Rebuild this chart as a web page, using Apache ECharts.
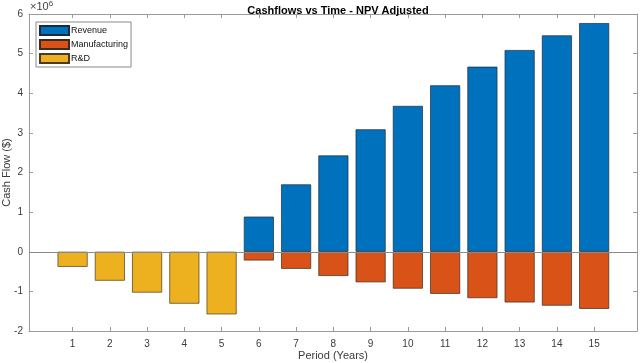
<!DOCTYPE html>
<html><head><meta charset="utf-8">
<script src="https://cdn.jsdelivr.net/npm/echarts@6/dist/echarts.min.js"></script>
<style>html,body{margin:0;padding:0;background:#fff}#c{width:640px;height:363px}</style>
</head><body><div id="c"></div>
<script>
const periods = [1,2,3,4,5,6,7,8,9,10,11,12,13,14,15];
const revenue = [null,null,null,null,null,0.886,1.70,2.43,3.09,3.68,4.20,4.67,5.09,5.46,5.77];
const manufacturing = [null,null,null,null,null,-0.22,-0.43,-0.61,-0.77,-0.93,-1.06,-1.17,-1.28,-1.36,-1.44];
const rnd = [-0.38,-0.73,-1.03,-1.31,-1.58,null,null,null,null,null,null,null,null,null,null];
const yTicks = [-2,-1,0,1,2,3,4,5,6];

const FONT = "'Liberation Sans', Arial, sans-serif";
const axisGray = '#9a9a9a';
const textCol = '#3a3a3a';
const pairs = arr => periods.map((p,i)=>[p, arr[i]]).filter(d=>d[1]!==null);

const chart = echarts.init(document.getElementById('c'), null, {renderer:'canvas'});
const barBase = {type:'bar', barWidth:30, barGap:'-100%', xAxisIndex:0, yAxisIndex:0};
chart.setOption({
  animation:false,
  textStyle:{fontFamily:FONT},
  title:{text:'Cashflows vs Time - NPV Adjusted', left:333, top:0, textAlign:'center',
    textStyle:{fontFamily:FONT, fontSize:11, fontWeight:'bold', color:'#000'}},
  graphic:[{type:'text', left:30, top:0, style:{text:'×10{s|6}', fontFamily:FONT, fontSize:11, fill:'#444',
    rich:{s:{fontSize:8, verticalAlign:'top', fill:'#444', padding:[0,0,6,0]}}}}],
  legend:{orient:'vertical', left:36, top:22, itemWidth:29, itemHeight:9, itemGap:3, padding:[3,3,3,3],
    borderColor:'#8a8a8a', borderWidth:1, backgroundColor:'#fff', icon:'rect',
    textStyle:{fontFamily:FONT, fontSize:9, color:'#111', padding:[0,0,0,-3]},
    data:['Revenue','Manufacturing','R&D']},
  grid:{left:29, right:3, top:14, bottom:32, containLabel:false, outerBoundsMode:'none'},
  xAxis:[
    {type:'value', min:-0.17, max:16.15, position:'bottom',
     axisLine:{onZero:false, lineStyle:{color:axisGray}},
     axisTick:{inside:true, length:4, customValues:periods, lineStyle:{color:axisGray}},
     axisLabel:{customValues:periods, fontSize:10, color:textCol, fontFamily:FONT, margin:8},
     splitLine:{show:false},
     name:'Period (Years)', nameLocation:'middle', nameGap:19, nameMoveOverlap:false,
     nameTextStyle:{fontSize:11, color:textCol, fontFamily:FONT}},
    {type:'value', min:-0.17, max:16.15, position:'top',
     axisLine:{onZero:false, lineStyle:{color:axisGray}},
     axisTick:{inside:true, length:4, customValues:periods, lineStyle:{color:axisGray}},
     axisLabel:{show:false}, splitLine:{show:false}}
  ],
  yAxis:[
    {type:'value', min:-2, max:6, interval:1, position:'left',
     axisLine:{show:true, onZero:false, lineStyle:{color:axisGray}},
     axisTick:{show:true, inside:true, length:4, lineStyle:{color:axisGray}},
     axisLabel:{fontSize:10, color:textCol, fontFamily:FONT, margin:6},
     splitLine:{show:false},
     name:'Cash Flow ($)', nameLocation:'middle', nameGap:17, nameMoveOverlap:false,
     nameTextStyle:{fontSize:11, color:textCol, fontFamily:FONT}},
    {type:'value', min:-2, max:6, interval:1, position:'right',
     axisLine:{show:true, onZero:false, lineStyle:{color:axisGray}},
     axisTick:{show:true, inside:true, length:4, lineStyle:{color:axisGray}},
     axisLabel:{show:false}, splitLine:{show:false}}
  ],
  series:[
    Object.assign({}, barBase, {name:'Revenue', data:pairs(revenue),
      itemStyle:{color:'#0072BD', borderColor:'#1e2a3a', borderWidth:0.7},
      markLine:{silent:true, symbol:'none', label:{show:false},
        lineStyle:{color:'#8a8a8a', width:1, type:'solid'}, data:[{yAxis:0}]}}),
    Object.assign({}, barBase, {name:'Manufacturing', data:pairs(manufacturing),
      itemStyle:{color:'#D95319', borderColor:'#3a2a20', borderWidth:0.7}}),
    Object.assign({}, barBase, {name:'R&D', data:pairs(rnd),
      itemStyle:{color:'#EDB120', borderColor:'#4a3a20', borderWidth:0.7}})
  ]
});
</script></body></html>
